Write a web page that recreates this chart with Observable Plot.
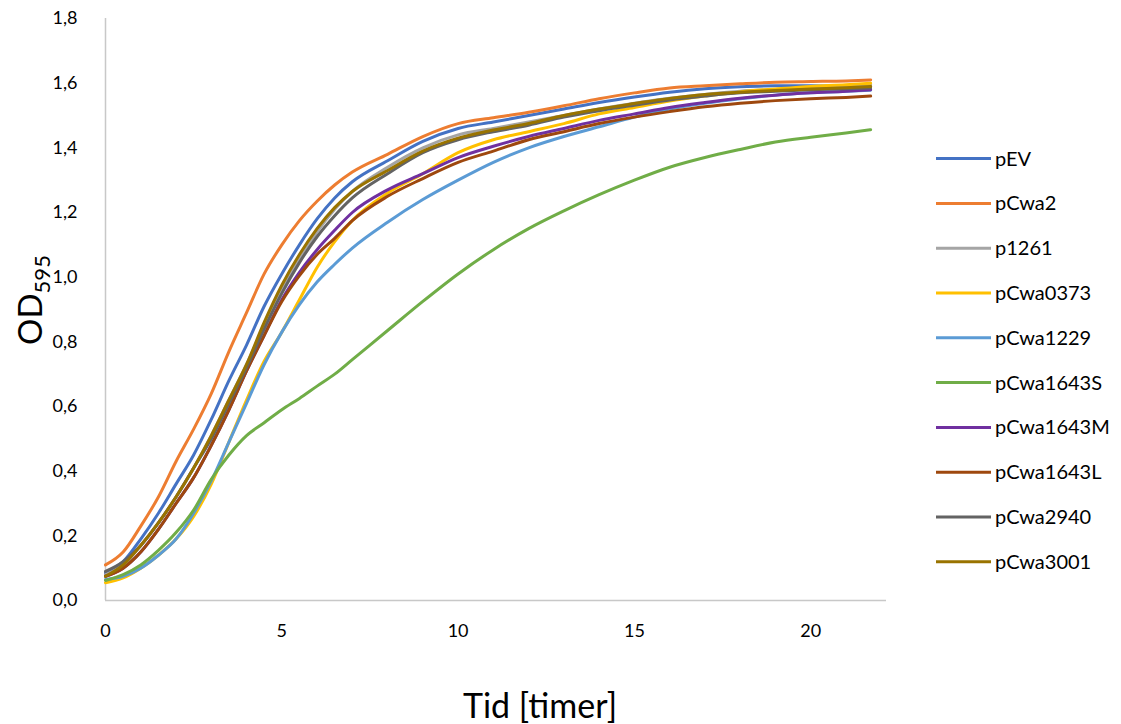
<!DOCTYPE html>
<html>
<head>
<meta charset="utf-8">
<script src="https://cdn.jsdelivr.net/npm/d3@7"></script>
<script src="https://cdn.jsdelivr.net/npm/@observablehq/plot@0.6"></script>
<style>
  html, body { margin: 0; padding: 0; background: #fff; }
  #chart { position: relative; width: 1121px; height: 724px; }
</style>
</head>
<body>
<div id="chart"></div>
<script>
// Time points (hours)
const hours = [0,0.5,1,1.5,2,2.5,3,3.5,4,4.5,5,5.5,6,6.5,7,8,9,10,11,12,13,14,15,16,17,18,19,20,21,21.7];

// Series names and colours
const seriesNames = ["pEV","pCwa2","p1261","pCwa0373","pCwa1229","pCwa1643S","pCwa1643M","pCwa1643L","pCwa2940","pCwa3001"];
const seriesColors = ["#4472C4","#ED7D31","#A5A5A5","#FFC000","#5B9BD5","#70AD47","#7030A0","#9E480E","#636363","#997300"];

// OD595 readings per series
const pEV      = [0.085,0.12,0.19,0.27,0.36,0.45,0.56,0.68,0.79,0.91,1.01,1.10,1.18,1.245,1.295,1.36,1.42,1.46,1.48,1.50,1.52,1.54,1.557,1.572,1.583,1.589,1.592,1.592,1.59,1.59];
const pCwa2    = [0.11,0.15,0.23,0.32,0.43,0.53,0.64,0.77,0.89,1.01,1.10,1.175,1.235,1.285,1.325,1.38,1.435,1.475,1.493,1.51,1.53,1.552,1.57,1.585,1.592,1.598,1.603,1.605,1.607,1.61];
const p1261    = [0.08,0.11,0.17,0.24,0.32,0.41,0.51,0.62,0.73,0.85,0.96,1.055,1.14,1.21,1.265,1.34,1.40,1.44,1.46,1.48,1.50,1.52,1.538,1.553,1.565,1.575,1.58,1.585,1.59,1.595];
const pCwa0373 = [0.055,0.07,0.10,0.14,0.19,0.26,0.36,0.49,0.62,0.74,0.83,0.93,1.03,1.11,1.175,1.26,1.32,1.385,1.425,1.45,1.475,1.505,1.525,1.545,1.56,1.573,1.582,1.59,1.595,1.60];
const pCwa1229 = [0.065,0.075,0.10,0.14,0.19,0.27,0.37,0.49,0.61,0.73,0.83,0.915,0.985,1.04,1.09,1.17,1.24,1.30,1.355,1.40,1.435,1.465,1.495,1.52,1.538,1.552,1.563,1.57,1.575,1.578];
const pCwa1643S= [0.062,0.08,0.11,0.155,0.21,0.28,0.375,0.45,0.51,0.55,0.59,0.625,0.663,0.70,0.745,0.835,0.925,1.01,1.085,1.15,1.205,1.255,1.30,1.34,1.37,1.395,1.418,1.433,1.446,1.456];
const pCwa1643M= [0.075,0.10,0.15,0.22,0.30,0.38,0.48,0.59,0.71,0.82,0.93,1.015,1.085,1.145,1.20,1.27,1.32,1.37,1.405,1.435,1.46,1.485,1.505,1.525,1.54,1.553,1.563,1.57,1.575,1.58];
const pCwa1643L= [0.075,0.10,0.15,0.22,0.30,0.38,0.48,0.59,0.71,0.82,0.925,1.005,1.07,1.12,1.175,1.25,1.305,1.355,1.39,1.425,1.45,1.475,1.495,1.512,1.527,1.538,1.546,1.552,1.556,1.56];
const pCwa2940 = [0.09,0.12,0.17,0.24,0.32,0.41,0.50,0.61,0.72,0.84,0.95,1.045,1.125,1.19,1.245,1.32,1.385,1.425,1.45,1.47,1.495,1.515,1.532,1.548,1.56,1.57,1.575,1.58,1.583,1.585];
const pCwa3001 = [0.075,0.11,0.17,0.24,0.32,0.41,0.51,0.62,0.73,0.86,0.975,1.07,1.15,1.215,1.265,1.33,1.39,1.43,1.455,1.475,1.50,1.52,1.537,1.553,1.565,1.572,1.577,1.582,1.586,1.59];

const seriesValues = [pEV,pCwa2,p1261,pCwa0373,pCwa1229,pCwa1643S,pCwa1643M,pCwa1643L,pCwa2940,pCwa3001];

// Axis ticks
const yTicks = [0,0.2,0.4,0.6,0.8,1.0,1.2,1.4,1.6,1.8];
const xTicks = [0,5,10,15,20];

const rows = [];
seriesNames.forEach((name, i) => {
  hours.forEach((t, j) => rows.push({series: name, t, od: seriesValues[i][j]}));
});

const font = "Lato, 'Open Sans', sans-serif";
const fmt = d => d.toFixed(1).replace(".", ",");

const W = 1121, H = 724;
const mL = 105, mR = 235, mT = 18, mB = 124;

const plot = Plot.plot({
  width: W,
  height: H,
  marginLeft: mL,
  marginRight: mR,
  marginTop: mT,
  marginBottom: mB,
  style: {fontFamily: font, fontSize: "18px", color: "#000", background: "#fff"},
  x: {domain: [0, 22.15], ticks: xTicks, tickSize: 0, tickPadding: 24, label: null},
  y: {domain: [0, 1.8], ticks: yTicks, tickSize: 0, tickPadding: 28, tickFormat: fmt, label: null},
  color: {domain: seriesNames, range: seriesColors},
  marks: [
    Plot.ruleX([0], {stroke: "#c8c8c8", strokeWidth: 1.5}),
    Plot.ruleY([0], {stroke: "#c8c8c8", strokeWidth: 1.5}),
    Plot.line(rows, {x: "t", y: "od", z: "series", stroke: "series", strokeWidth: 3, curve: "monotone-x"})
  ]
});

document.getElementById("chart").appendChild(plot);

const svg = d3.select(plot);

// Axis titles
svg.append("text")
  .attr("x", 540).attr("y", 718)
  .attr("text-anchor", "middle")
  .attr("font-family", font).attr("font-size", 34)
  .attr("fill", "#000")
  .text("Tid [timer]");

const yt = svg.append("text")
  .attr("transform", "translate(42,300) rotate(-90)")
  .attr("text-anchor", "middle")
  .attr("font-family", font).attr("font-size", 33)
  .attr("fill", "#000");
yt.append("tspan").text("OD");
yt.append("tspan").attr("font-size", 22).attr("dy", 8).text("595");

// Legend
const lg = svg.append("g").attr("font-family", font).attr("font-size", 20).attr("text-anchor", "start");
seriesNames.forEach((name, i) => {
  const y = 158.6 + i * 44.8;
  lg.append("line").attr("x1", 936).attr("x2", 991).attr("y1", y).attr("y2", y)
    .attr("stroke", seriesColors[i]).attr("stroke-width", 3);
  lg.append("text").attr("x", 995).attr("y", y).attr("dy", "0.35em")
    .attr("text-anchor", "start")
    .attr("fill", "#000").text(name);
});
</script>
</body>
</html>
